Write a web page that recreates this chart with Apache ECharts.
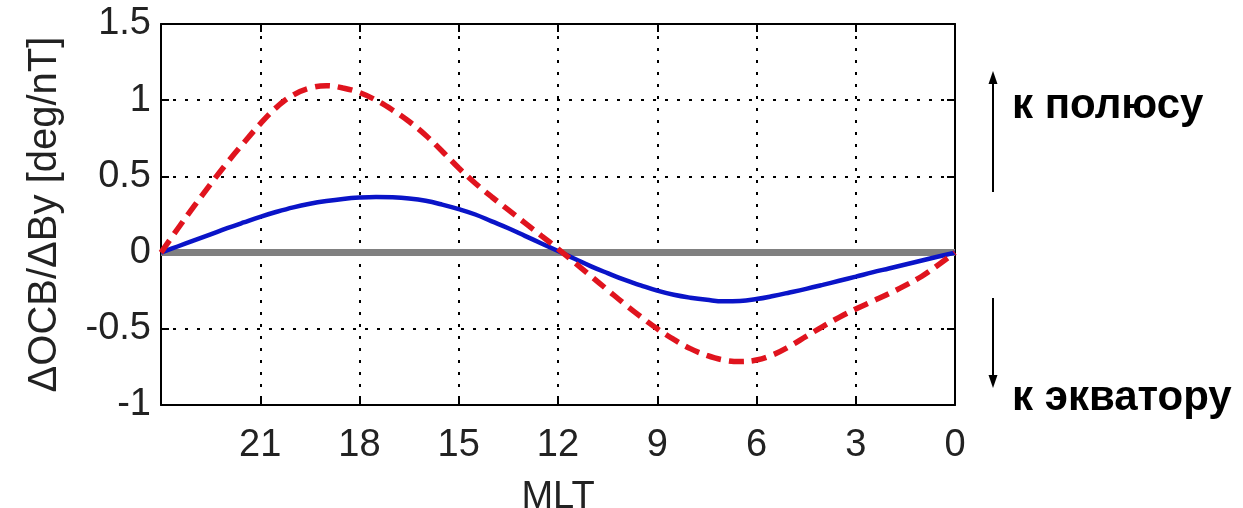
<!DOCTYPE html>
<html>
<head>
<meta charset="utf-8">
<script src="https://cdn.jsdelivr.net/npm/echarts@6/dist/echarts.min.js"></script>
<style>
  html, body { margin: 0; padding: 0; background: #fff; }
  #chart { width: 1243px; height: 508px; }
</style>
</head>
<body>
<div id="chart"></div>
<script>
// Magnetic local time (hours), plotted right-to-left from 24 to 0
const mlt = [24, 23.5, 23, 22.5, 22, 21.5, 21, 20.5, 20, 19.5, 19, 18.5, 18, 17.5, 17, 16.5, 16, 15.5, 15, 14.5, 14, 13.5, 13, 12.5, 12,
             11.5, 11, 10.5, 10, 9.5, 9, 8.5, 8, 7.5, 7, 6.5, 6, 5.5, 5, 4.5, 4, 3.5, 3, 2.5, 2, 1.5, 1, 0.5, 0];

// dOCB/dBy, dashed red curve
const redValues = [0, 0.155, 0.305, 0.45, 0.59, 0.72, 0.845, 0.955, 1.035, 1.08, 1.095, 1.08, 1.05, 1.0, 0.935, 0.86, 0.77, 0.665, 0.555, 0.455, 0.365, 0.28, 0.195, 0.11, 0.025,
                   -0.065, -0.155, -0.245, -0.335, -0.42, -0.50, -0.57, -0.63, -0.675, -0.705, -0.715, -0.705, -0.67, -0.615, -0.55, -0.485, -0.425, -0.37, -0.32, -0.27, -0.215, -0.155, -0.08, 0];

// dOCB/dBy, solid blue curve
const blueValues = [0, 0.04, 0.08, 0.12, 0.16, 0.198, 0.235, 0.268, 0.297, 0.32, 0.338, 0.352, 0.361, 0.365, 0.363, 0.355, 0.34, 0.315, 0.285, 0.25, 0.205, 0.16, 0.11, 0.06, 0.01,
                    -0.04, -0.09, -0.135, -0.178, -0.215, -0.25, -0.277, -0.296, -0.31, -0.32, -0.318, -0.305, -0.285, -0.262, -0.238, -0.212, -0.185, -0.158, -0.13, -0.104, -0.078, -0.052, -0.026, 0];

// Reference zero level
const zeroLevel = [[24, 0], [0, 0]];

const xTicks = { min: 0, max: 24, step: 3 };
const yTicks = { min: -1, max: 1.5, step: 0.5 };

const pairs = (xs, ys) => xs.map((x, i) => [x, ys[i]]);

const FONT = "'Liberation Sans', Arial, sans-serif";
const gridDash = { color: '#000', width: 2, type: [3, 9] };

const chart = echarts.init(document.getElementById('chart'), null, { renderer: 'canvas' });

const baseX = {
  type: 'value', inverse: true, min: xTicks.min, max: xTicks.max, interval: xTicks.step,
  axisLine: { show: true, onZero: false, lineStyle: { color: '#000', width: 2 } },
  axisTick: { show: true, inside: true, length: 8, lineStyle: { color: '#000', width: 2 } }
};
const baseY = {
  type: 'value', min: yTicks.min, max: yTicks.max, interval: yTicks.step,
  axisLine: { show: true, onZero: false, lineStyle: { color: '#000', width: 2 } },
  axisTick: { show: true, inside: true, length: 8, lineStyle: { color: '#000', width: 2 } }
};

chart.setOption({
  animation: false,
  backgroundColor: '#fff',
  grid: { left: 161, right: 288, top: 24, bottom: 103, containLabel: false, outerBoundsMode: 'none' },
  xAxis: [
    Object.assign({}, baseX, {
      position: 'bottom',
      name: 'MLT', nameLocation: 'middle', nameGap: 74,
      nameTextStyle: { fontFamily: FONT, fontSize: 38, color: '#222' },
      axisLabel: {
        margin: 22, fontFamily: FONT, fontSize: 38, color: '#222',
        formatter: v => (v === xTicks.max ? '' : String(v))
      },
      splitLine: { show: true, lineStyle: gridDash }
    }),
    Object.assign({}, baseX, {
      position: 'top', axisLabel: { show: false }, splitLine: { show: false }
    })
  ],
  yAxis: [
    Object.assign({}, baseY, {
      position: 'left',
      name: '\u0394OCB/\u0394By [deg/nT]', nameLocation: 'middle', nameGap: 96, nameRotate: 90,
      nameTextStyle: { fontFamily: FONT, fontSize: 40, color: '#222' },
      axisLabel: { margin: 10, fontFamily: FONT, fontSize: 38, color: '#222' },
      splitLine: { show: true, lineStyle: gridDash }
    }),
    Object.assign({}, baseY, {
      position: 'right', axisLabel: { show: false }, splitLine: { show: false }
    })
  ],
  series: [
    {
      type: 'line', data: zeroLevel, showSymbol: false, silent: true, z: 2,
      lineStyle: { color: '#808080', width: 7 }
    },
    {
      type: 'line', data: pairs(mlt, blueValues), smooth: 0.4, showSymbol: false, z: 3,
      lineStyle: { color: '#0a14c8', width: 4.5 }
    },
    {
      type: 'line', data: pairs(mlt, redValues), smooth: 0.4, showSymbol: false, z: 4,
      lineStyle: { color: '#e0141e', width: 5.5, type: [15, 8] }
    }
  ],
  graphic: [
    { type: 'line', shape: { x1: 993, y1: 192, x2: 993, y2: 82 }, style: { stroke: '#000', lineWidth: 2 } },
    { type: 'polygon', shape: { points: [[993, 71], [988.5, 84], [997.5, 84]] }, style: { fill: '#000' } },
    { type: 'line', shape: { x1: 993, y1: 298, x2: 993, y2: 377 }, style: { stroke: '#000', lineWidth: 2 } },
    { type: 'polygon', shape: { points: [[993, 388], [988.5, 375], [997.5, 375]] }, style: { fill: '#000' } },
    {
      type: 'text', x: 1012, y: 106,
      style: { text: '\u043a \u043f\u043e\u043b\u044e\u0441\u0443', font: "bold 42px 'Liberation Sans', Arial, sans-serif", fill: '#000', verticalAlign: 'middle' }
    },
    {
      type: 'text', x: 1012, y: 398,
      style: { text: '\u043a \u044d\u043a\u0432\u0430\u0442\u043e\u0440\u0443', font: "bold 42px 'Liberation Sans', Arial, sans-serif", fill: '#000', verticalAlign: 'middle' }
    }
  ]
});
</script>
</body>
</html>
